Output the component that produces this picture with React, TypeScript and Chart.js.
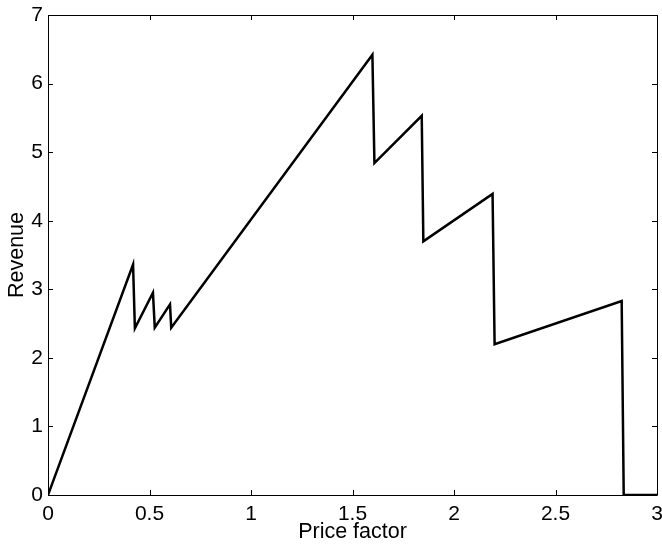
import React, { useEffect, useRef } from "react";
import { Chart, registerables } from "chart.js";

Chart.register(...registerables);

const priceFactor = [0, 0.419, 0.428, 0.517, 0.526, 0.601, 0.607, 1.598, 1.608, 1.841, 1.849, 2.19, 2.2, 2.826, 2.836, 3];
const revenue = [0, 3.36, 2.43, 2.95, 2.44, 2.78, 2.44, 6.42, 4.84, 5.53, 3.7, 4.39, 2.2, 2.83, 0, 0];
const xTicks = [0, 0.5, 1, 1.5, 2, 2.5, 3];
const yTicks = [0, 1, 2, 3, 4, 5, 6, 7];

const FONT = "'Liberation Sans', Arial, sans-serif";

const boxPlugin = {
  id: "box",
  afterDraw(chart: any) {
    const { ctx, chartArea } = chart;
    const { left, right, top, bottom } = chartArea;
    const xs = chart.scales.x;
    const ys = chart.scales.y;
    ctx.save();
    ctx.strokeStyle = "#000";
    ctx.lineWidth = 1;
    ctx.beginPath();
    ctx.rect(left + 0.5, top + 0.5, right - left, bottom - top);
    ctx.stroke();
    const tl = 5;
    ctx.beginPath();
    for (const v of xTicks) {
      const px = Math.round(xs.getPixelForValue(v)) + 0.5;
      ctx.moveTo(px, bottom);
      ctx.lineTo(px, bottom - tl);
      ctx.moveTo(px, top);
      ctx.lineTo(px, top + tl);
    }
    for (const v of yTicks) {
      const py = Math.round(ys.getPixelForValue(v)) + 0.5;
      ctx.moveTo(left, py);
      ctx.lineTo(left + tl, py);
      ctx.moveTo(right, py);
      ctx.lineTo(right - tl, py);
    }
    ctx.stroke();
    ctx.restore();
  },
};

export default function App() {
  const ref = useRef<HTMLCanvasElement>(null);
  useEffect(() => {
    const canvas = ref.current!;
    const chart = new Chart(canvas, {
      type: "line",
      data: {
        datasets: [
          {
            data: priceFactor.map((x, i) => ({ x, y: revenue[i] })),
            borderColor: "#000",
            borderWidth: 2.5,
            pointRadius: 0,
            tension: 0,
            fill: false,
          },
        ],
      },
      options: {
        responsive: false,
        animation: false,
        layout: { padding: { left: 0, top: 15, right: 5, bottom: 0 } },
        plugins: { legend: { display: false }, tooltip: { enabled: false } },
        scales: {
          x: {
            type: "linear",
            min: 0,
            max: 3,
            afterBuildTicks: (s: any) => {
              s.ticks = xTicks.map((v) => ({ value: v }));
            },
            afterFit: (s: any) => {
              s.height = 50;
              s.paddingLeft = 0;
              s.paddingRight = 0;
            },
            grid: { display: false, drawTicks: false },
            border: { display: false },
            ticks: {
              color: "#000",
              font: { family: FONT, size: 21 },
              padding: 7,
              maxRotation: 0,
              callback: (v: any) => String(v),
            },
            title: {
              display: true,
              text: "Price factor",
              color: "#000",
              font: { family: FONT, size: 21.5 },
              padding: { top: 0, bottom: 0 },
            },
          },
          y: {
            type: "linear",
            min: 0,
            max: 7,
            afterBuildTicks: (s: any) => {
              s.ticks = yTicks.map((v) => ({ value: v }));
            },
            afterFit: (s: any) => {
              s.width = 48;
              s.paddingTop = 0;
              s.paddingBottom = 0;
            },
            grid: { display: false, drawTicks: false },
            border: { display: false },
            ticks: {
              color: "#000",
              font: { family: FONT, size: 21 },
              padding: 5,
              callback: (v: any) => String(v),
            },
            title: {
              display: true,
              text: "Revenue",
              color: "#000",
              font: { family: FONT, size: 21.5 },
              padding: { top: 4, bottom: 0 },
            },
          },
        },
      },
      plugins: [boxPlugin],
    });
    return () => chart.destroy();
  }, []);
  return (
    <div style={{ position: "absolute", left: 0, top: 0, width: 662, height: 545, background: "#fff" }}>
      <canvas ref={ref} width={662} height={545} style={{ width: 662, height: 545, display: "block" }} />
    </div>
  );
}
